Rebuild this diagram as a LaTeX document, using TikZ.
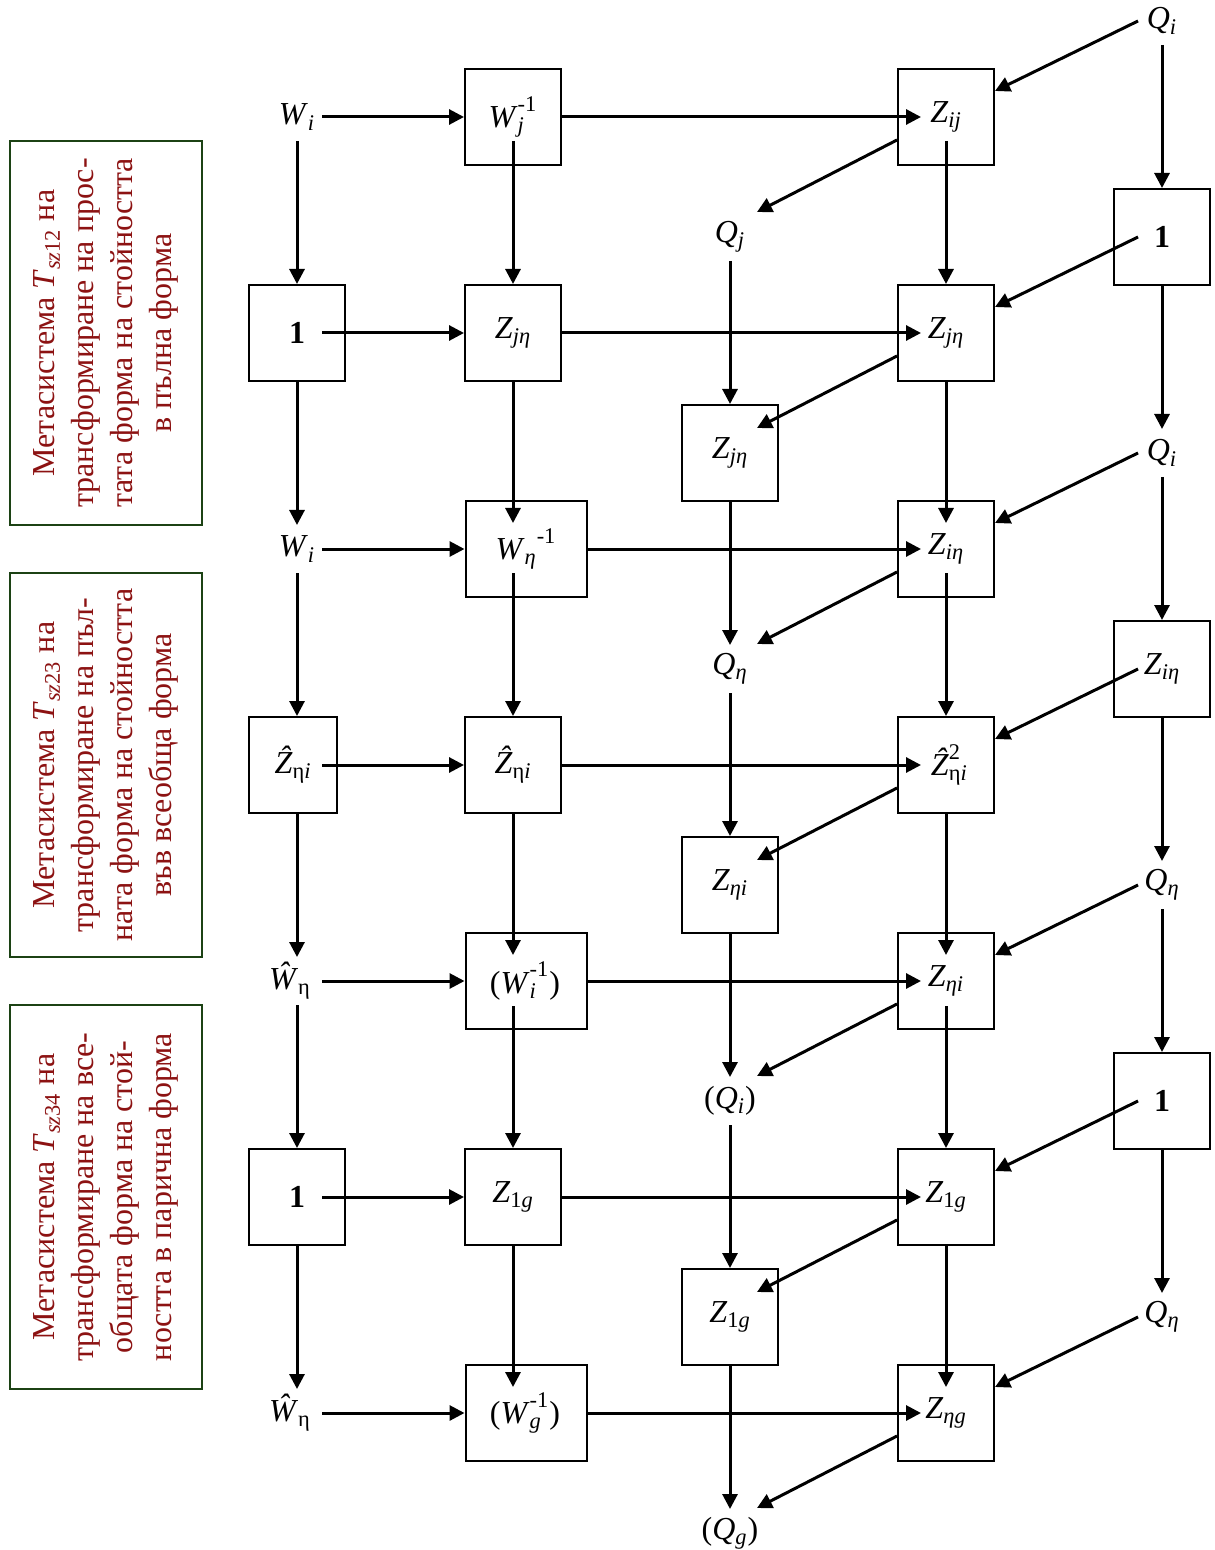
\documentclass[tikz,border=0pt]{standalone}
\usepackage{fontspec}
\setmainfont{Liberation Serif}
\usetikzlibrary{arrows.meta,calc}
\definecolor{tred}{RGB}{140,18,18}
\definecolor{gborder}{RGB}{28,66,20}
% variable with italic subscript
\newcommand\vv[2]{\textit{#1}\textsubscript{\textit{#2}}}
% variable with stacked subscript and superscript
\newcommand\ssup[3]{\textit{#1}\rlap{\textsubscript{#2}}\raisebox{0.25ex}{\textsuperscript{#3}}}
\begin{document}
\begin{tikzpicture}[x=0.5pt,y=-0.5pt,
  lab/.style={inner sep=0pt, font=\fontsize{16}{19}\selectfont},
  cell/.style={draw, line width=1pt, minimum width=48pt, minimum height=48pt, inner sep=0pt},
  widecell/.style={cell, minimum width=60.5pt},
  arr/.style={line width=1.5pt, -{Triangle[length=7.5pt,width=7.5pt]}},
  meta/.style={rotate=90, draw=gborder, line width=1.1pt, minimum width=192pt,
    minimum height=96pt, align=center, text=tred, inner sep=0pt,
    font=\fontsize{16}{19.5}\selectfont}
]
\useasboundingbox (0,0) rectangle (1214,1550);

% ---- side captions ----
\node[meta] (m1) at (106,333) {Метасистема \textit{T}\textsubscript{\textit{sz}12} на\\трансформиране на прос-\\тата форма на стойността\\в пълна форма};
\node[meta] (m2) at (106,765) {Метасистема \textit{T}\textsubscript{\textit{sz}23} на\\трансформиране на пъл-\\ната форма на стойността\\във всеобща форма};
\node[meta] (m3) at (106,1197) {Метасистема \textit{T}\textsubscript{\textit{sz}34} на\\трансформиране на все-\\общата форма на стой-\\ността в парична форма};

% ---- column A ----
\node[lab] (tA1) at (297,117) {\vv{W}{i}};
\node[cell] (bA2) at (297,333) {};
\node[lab] (tA2) at (297,333) {\textbf{1}};
\node[lab] (tA3) at (297,549) {\vv{W}{i}};
\node[cell, minimum width=44pt] (bA4) at (293,765) {};
\node[lab] (tA4) at (293,765) {\textit{\^Z}\textsubscript{η\textit{i}}};
\node[lab] (tA5) at (290,981) {\textit{\^W}\textsubscript{η}};
\node[cell] (bA6) at (297,1197) {};
\node[lab] (tA6) at (297,1197) {\textbf{1}};
\node[lab] (tA7) at (290,1413) {\textit{\^W}\textsubscript{η}};

% ---- column B ----
\node[cell] (bB1) at (513,117) {};
\node[lab] (tB1) at (513,117) {\ssup{W}{\textit{j}}{-1}};
\node[cell] (bB2) at (513,333) {};
\node[lab] (tB2) at (513,333) {\vv{Z}{jη}};
\node[widecell] (bB3) at (526,549) {};
\node[lab] (tB3) at (526,549) {\textit{W}\textsubscript{\textit{η}}\raisebox{0.25ex}{\textsuperscript{-1}}};
\node[cell] (bB4) at (513,765) {};
\node[lab] (tB4) at (513,765) {\textit{\^Z}\textsubscript{η\textit{i}}};
\node[widecell] (bB5) at (526,981) {};
\node[lab] (tB5) at (525,981) {(\ssup{W}{\textit{i}}{-1})};
\node[cell] (bB6) at (513,1197) {};
\node[lab] (tB6) at (513,1197) {\textit{Z}\textsubscript{1\textit{g}}};
\node[widecell] (bB7) at (526,1413) {};
\node[lab] (tB7) at (525,1413) {(\ssup{W}{\textit{g}}{-1})};

% ---- column C ----
\node[lab] (tC1) at (730,237) {\vv{Q}{j}};
\node[cell] (bC2) at (730,453) {};
\node[lab] (tC2) at (730,453) {\vv{Z}{jη}};
\node[lab] (tC3) at (730,669) {\vv{Q}{η}};
\node[cell] (bC4) at (730,885) {};
\node[lab] (tC4) at (730,885) {\vv{Z}{ηi}};
\node[lab] (tC5) at (730,1101) {(\vv{Q}{i})};
\node[cell] (bC6) at (730,1317) {};
\node[lab] (tC6) at (730,1317) {\textit{Z}\textsubscript{1\textit{g}}};
\node[lab] (tC7) at (730,1533) {(\vv{Q}{g})};

% ---- column D ----
\node[cell] (bD1) at (946,117) {};
\node[lab] (tD1) at (946,117) {\vv{Z}{ij}};
\node[cell] (bD2) at (946,333) {};
\node[lab] (tD2) at (946,333) {\vv{Z}{jη}};
\node[cell] (bD3) at (946,549) {};
\node[lab] (tD3) at (946,549) {\vv{Z}{iη}};
\node[cell] (bD4) at (946,765) {};
\node[lab] (tD4) at (946,765) {\textit{\^Z}\rlap{\textsubscript{η\textit{i}}}\raisebox{0.25ex}{\textsuperscript{2}}};
\node[cell] (bD5) at (946,981) {};
\node[lab] (tD5) at (946,981) {\vv{Z}{ηi}};
\node[cell] (bD6) at (946,1197) {};
\node[lab] (tD6) at (946,1197) {\textit{Z}\textsubscript{1\textit{g}}};
\node[cell] (bD7) at (946,1413) {};
\node[lab] (tD7) at (946,1413) {\vv{Z}{ηg}};

% ---- column E ----
\node[lab] (tE0) at (1162,21) {\vv{Q}{i}};
\node[cell] (bE1) at (1162,237) {};
\node[lab] (tE1) at (1162,237) {\textbf{1}};
\node[lab] (tE2) at (1162,453) {\vv{Q}{i}};
\node[cell] (bE3) at (1162,669) {};
\node[lab] (tE3) at (1162,669) {\vv{Z}{iη}};
\node[lab] (tE4) at (1162,885) {\vv{Q}{η}};
\node[cell] (bE5) at (1162,1101) {};
\node[lab] (tE5) at (1162,1101) {\textbf{1}};
\node[lab] (tE6) at (1162,1317) {\vv{Q}{η}};

% ---- horizontal flows ----
\draw[arr] ($(tA1)+(25,0)$) -- (bB1.west);
\draw[arr] (bB1.east) -- ($(tD1)+(-25,0)$);
\draw[arr] ($(tA2)+(25,0)$) -- (bB2.west);
\draw[arr] (bB2.east) -- ($(tD2)+(-25,0)$);
\draw[arr] ($(tA3)+(25,0)$) -- (bB3.west);
\draw[arr] (bB3.east) -- ($(tD3)+(-25,0)$);
\draw[arr] ($(tA4)+(29,0)$) -- (bB4.west);
\draw[arr] (bB4.east) -- ($(tD4)+(-25,0)$);
\draw[arr] ($(tA5)+(32,0)$) -- (bB5.west);
\draw[arr] (bB5.east) -- ($(tD5)+(-25,0)$);
\draw[arr] ($(tA6)+(25,0)$) -- (bB6.west);
\draw[arr] (bB6.east) -- ($(tD6)+(-25,0)$);
\draw[arr] ($(tA7)+(32,0)$) -- (bB7.west);
\draw[arr] (bB7.east) -- ($(tD7)+(-25,0)$);

% ---- column A verticals ----
\draw[arr] ($(tA1)+(0,24)$) -- (bA2.north);
\draw[arr] (bA2.south) -- ($(tA3)+(0,-24)$);
\draw[arr] ($(tA3)+(0,24)$) -- (tA3 |- bA4.north);
\draw[arr] (tA3 |- bA4.south) -- ($(tA5)+(7,-24)$);
\draw[arr] ($(tA5)+(7,24)$) -- (bA6.north);
\draw[arr] (bA6.south) -- ($(tA7)+(7,-24)$);

% ---- column B verticals ----
\draw[arr] ($(tB1)+(0,24)$) -- (bB2.north);
\draw[arr] (bB2.south) -- ($(tB3)+(-13,-26)$);
\draw[arr] ($(tB3)+(-13,24)$) -- (bB4.north);
\draw[arr] (bB4.south) -- ($(tB5)+(-12,-26)$);
\draw[arr] ($(tB5)+(-12,25)$) -- (bB6.north);
\draw[arr] (bB6.south) -- ($(tB7)+(-12,-26)$);

% ---- column C verticals ----
\draw[arr] ($(tC1)+(0,24)$) -- (bC2.north);
\draw[arr] (bC2.south) -- ($(tC3)+(0,-24)$);
\draw[arr] ($(tC3)+(0,24)$) -- (bC4.north);
\draw[arr] (bC4.south) -- ($(tC5)+(0,-24)$);
\draw[arr] ($(tC5)+(0,24)$) -- (bC6.north);
\draw[arr] (bC6.south) -- ($(tC7)+(0,-24)$);

% ---- column D verticals ----
\draw[arr] ($(tD1)+(0,24)$) -- (bD2.north);
\draw[arr] (bD2.south) -- ($(tD3)+(0,-26)$);
\draw[arr] ($(tD3)+(0,24)$) -- (bD4.north);
\draw[arr] (bD4.south) -- ($(tD5)+(0,-26)$);
\draw[arr] ($(tD5)+(0,25)$) -- (bD6.north);
\draw[arr] (bD6.south) -- ($(tD7)+(0,-26)$);

% ---- column E verticals ----
\draw[arr] ($(tE0)+(0,24)$) -- (bE1.north);
\draw[arr] (bE1.south) -- ($(tE2)+(0,-24)$);
\draw[arr] ($(tE2)+(0,24)$) -- (bE3.north);
\draw[arr] (bE3.south) -- ($(tE4)+(0,-24)$);
\draw[arr] ($(tE4)+(0,24)$) -- (bE5.north);
\draw[arr] (bE5.south) -- ($(tE6)+(0,-24)$);

% ---- diagonals: column E into column D ----
\draw[arr] ($(tE0)+(-24,0)$) -- ($(bD1.east)+(0,-26)$);
\draw[arr] ($(tE1)+(-24,0)$) -- ($(bD2.east)+(0,-26)$);
\draw[arr] ($(tE2)+(-24,0)$) -- ($(bD3.east)+(0,-26)$);
\draw[arr] ($(tE3)+(-24,0)$) -- ($(bD4.east)+(0,-26)$);
\draw[arr] ($(tE4)+(-24,0)$) -- ($(bD5.east)+(0,-26)$);
\draw[arr] ($(tE5)+(-24,0)$) -- ($(bD6.east)+(0,-26)$);
\draw[arr] ($(tE6)+(-24,0)$) -- ($(bD7.east)+(0,-26)$);

% ---- diagonals: column D into column C ----
\draw[arr] ($(bD1.west)+(0,23)$) -- ($(tC1)+(27,-25)$);
\draw[arr] ($(bD2.west)+(0,23)$) -- ($(tC2)+(27,-25)$);
\draw[arr] ($(bD3.west)+(0,23)$) -- ($(tC3)+(27,-25)$);
\draw[arr] ($(bD4.west)+(0,23)$) -- ($(tC4)+(27,-25)$);
\draw[arr] ($(bD5.west)+(0,23)$) -- ($(tC5)+(27,-25)$);
\draw[arr] ($(bD6.west)+(0,23)$) -- ($(tC6)+(27,-25)$);
\draw[arr] ($(bD7.west)+(0,23)$) -- ($(tC7)+(27,-25)$);
\end{tikzpicture}
\end{document}
